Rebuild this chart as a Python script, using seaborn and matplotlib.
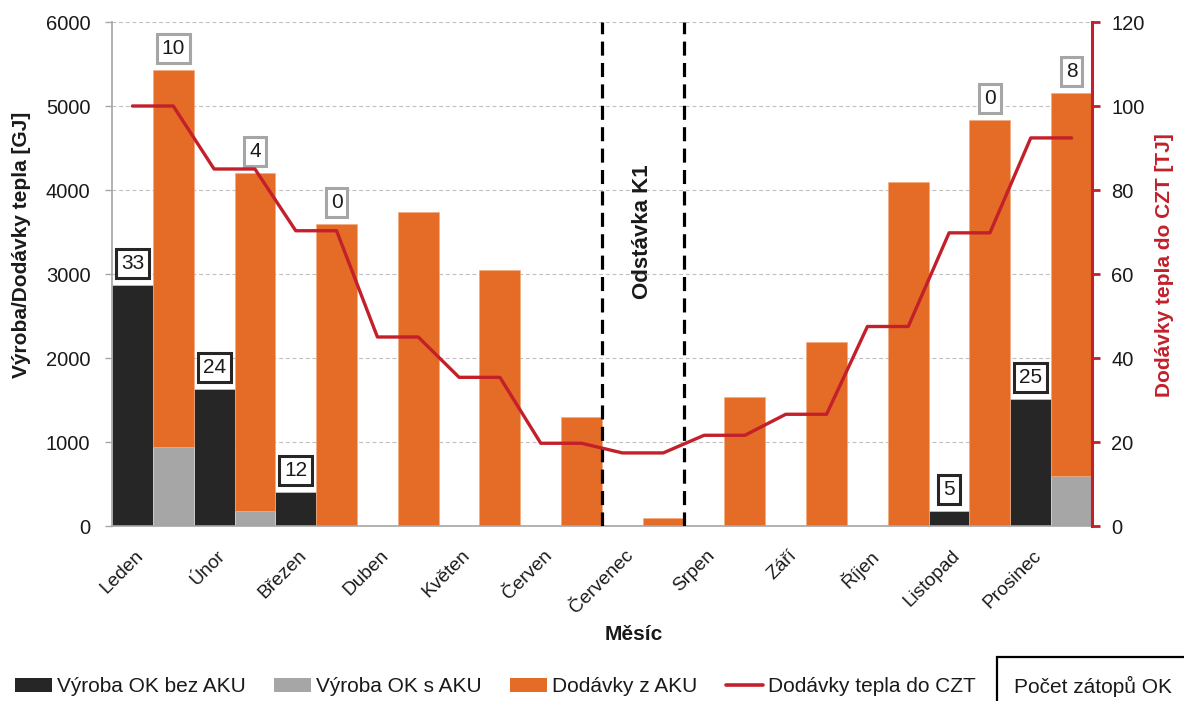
import numpy as np
import pandas as pd
import matplotlib
matplotlib.use("Agg")
import matplotlib.pyplot as plt
import matplotlib.transforms as mtransforms
from matplotlib.patches import Patch, Rectangle
from matplotlib.lines import Line2D
import seaborn as sns

# ---- data ----
months = ["Leden", "Únor", "Březen", "Duben", "Květen", "Červen",
          "Červenec", "Srpen", "Září", "Říjen", "Listopad", "Prosinec"]
vyroba_bez_aku = [2870, 1630, 400, 0, 0, 0, 0, 0, 0, 0, 180, 1510]        # GJ
vyroba_s_aku = [940, 180, 0, 0, 0, 0, 0, 0, 0, 0, 0, 600]                 # GJ
dodavky_z_aku = [4490, 4025, 3600, 3740, 3050, 1300, 100, 1540, 2190,
                 4090, 4830, 4550]                                          # GJ
dodavky_czt = [100, 85, 70.3, 45, 35.4, 19.7, 17.4, 21.6, 26.6, 47.5,
               69.8, 92.4]                                                  # TJ
zatopy_bez_aku = [33, 24, 12, None, None, None, None, None, None, None, 5, 25]
zatopy_s_aku = [10, 4, 0, None, None, None, None, None, None, None, 0, 8]
odstavka_months = ["Červenec"]

# ---- style ----
sns.set_theme(style="white")
plt.rcParams["font.family"] = ["Liberation Sans", "DejaVu Sans"]
FS = 15
FS_TICK = 14.5
FS_MONTH = 13.8
TXT = "#1a1a1a"
C_BLACK = "#262626"
C_GRAY = "#a6a6a6"
C_ORANGE = "#e46c26"
C_RED = "#c3202b"
C_AXIS = "#a6a6a6"

W, H, DPI = 1184, 701, 100
fig = plt.figure(figsize=(W / DPI, H / DPI), dpi=DPI)
ax = fig.add_axes([112 / W, 1 - 526 / H, (1092 - 112) / W, (526 - 22) / H])
ax2 = ax.twinx()

n = len(months)
idx = np.arange(n)
x_left = 2 * idx          # slot of the bar without accumulation
x_right = 2 * idx + 1     # slot of the stacked bar

# bars
ax.bar(x_left, vyroba_bez_aku, width=1, align="edge", color=C_BLACK,
       edgecolor="#d9d9d9", linewidth=0.4, zorder=2)
ax.bar(x_right, vyroba_s_aku, width=1, align="edge", color=C_GRAY,
       edgecolor="#e0e0e0", linewidth=0.4, zorder=2)
ax.bar(x_right, dodavky_z_aku, width=1, align="edge", bottom=vyroba_s_aku,
       color=C_ORANGE, edgecolor="#f2a878", linewidth=0.4, zorder=2)

ax.set_xlim(0, 2 * n)
ax.set_ylim(0, 6000)
ax.set_yticks(np.arange(0, 6001, 1000))
ax.yaxis.grid(True, color="#bfbfbf", linestyle=(0, (3.5, 2.5)), linewidth=0.8)
ax.set_axisbelow(True)

# shutdown period
for m in odstavka_months:
    i = months.index(m)
    for xv in (2 * i, 2 * i + 2):
        ax.axvline(xv, color="black", linewidth=2.3, linestyle=(0, (4.4, 2.3)),
                   zorder=3)
    ax.text(2 * i + 1, 3500, "Odstávka K1", rotation=90, ha="center",
            va="center", fontsize=FS + 1, fontweight="bold", color=TXT, zorder=4)

# number of start-ups (boxes above the bars)
def count_box(x, y, val, edge):
    ax.annotate(str(val), xy=(x, y), xytext=(0, 12), textcoords="offset pixels",
                ha="center", va="bottom", fontsize=FS, color=TXT, zorder=5,
                bbox=dict(boxstyle="square,pad=0.24", fc="white", ec=edge, lw=2.2))

for i in range(n):
    if zatopy_bez_aku[i] is not None:
        count_box(x_left[i] + 0.5, vyroba_bez_aku[i], zatopy_bez_aku[i], C_BLACK)
    if zatopy_s_aku[i] is not None:
        count_box(x_right[i] + 0.5, vyroba_s_aku[i] + dodavky_z_aku[i],
                  zatopy_s_aku[i], C_GRAY)

# heat supply line on the secondary axis
line_df = pd.DataFrame({
    "x": np.column_stack([x_left + 0.5, x_right + 0.5]).ravel(),
    "y": np.repeat(dodavky_czt, 2),
})
sns.lineplot(data=line_df, x="x", y="y", ax=ax2, color=C_RED, linewidth=2.4,
             sort=False, estimator=None, zorder=6)
ax2.set_ylim(0, 120)
ax2.set_yticks(np.arange(0, 121, 20))
ax2.set_xlim(0, 2 * n)
ax2.set_xlabel("")
ax2.set_ylabel("")

# x ticks: month labels
ax.set_xticks(x_right)
ax.set_xticklabels(months, rotation=45, ha="right", rotation_mode="anchor",
                   va="center", fontsize=FS_MONTH, color=TXT)
ax.tick_params(axis="x", length=0, pad=19.5)
shift = mtransforms.ScaledTranslation(-12 / DPI, 0, fig.dpi_scale_trans)
for lab in ax.get_xticklabels():
    lab.set_transform(lab.get_transform() + shift)

# y ticks
ax.tick_params(axis="y", left=True, length=5, width=1, color=C_AXIS, pad=10.5,
               labelsize=FS_TICK, labelcolor=TXT)
ax2.tick_params(axis="y", right=True, length=5.5, width=2, color=C_RED, pad=8.5,
                labelsize=FS_TICK, labelcolor=TXT, direction="out")

for s in ("top", "right"):
    ax.spines[s].set_visible(False)
for s in ("left", "bottom"):
    ax.spines[s].set_color(C_AXIS)
    ax.spines[s].set_linewidth(1.2)
for s in ("top", "left", "bottom"):
    ax2.spines[s].set_visible(False)
ax2.spines["right"].set_color(C_RED)
ax2.spines["right"].set_linewidth(2.2)

# axis titles
fig.text(22 / W, 1 - 245 / H, "Výroba/Dodávky tepla [GJ]", rotation=90,
         ha="center", va="center", fontsize=FS, fontweight="bold", color=TXT)
fig.text(1165 / W, 1 - 265 / H, "Dodávky tepla do CZT [TJ]", rotation=90,
         ha="center", va="center", fontsize=FS, fontweight="bold", color=C_RED)
fig.text(634 / W, 1 - 635 / H, "Měsíc", ha="center", va="center",
         fontsize=FS, fontweight="bold", color=TXT)

# legend
handles = [
    Patch(facecolor=C_BLACK, edgecolor="none"),
    Patch(facecolor=C_GRAY, edgecolor="none"),
    Patch(facecolor=C_ORANGE, edgecolor="none"),
    Line2D([], [], color=C_RED, linewidth=2.6),
]
labels = ["Výroba OK bez AKU", "Výroba OK s AKU", "Dodávky z AKU",
          "Dodávky tepla do CZT"]
fig.legend(handles, labels, ncol=4, frameon=False, fontsize=FS,
           loc="center left", bbox_to_anchor=(15 / W, 1 - 687 / H),
           borderpad=0, borderaxespad=0, handlelength=1.78, handleheight=0.62,
           handletextpad=0.24, columnspacing=1.36, labelcolor=TXT)

# legend box for the start-up counts
fig.patches.append(Rectangle((997 / W, -0.05), 0.2, (1 - 657 / H) + 0.05,
                             transform=fig.transFigure, fill=False,
                             edgecolor="black", linewidth=1.6))
fig.text(1014 / W, 1 - 686 / H, "Počet zátopů OK", ha="left", va="center",
         fontsize=FS, color=TXT)

fig.savefig("out.png", dpi=DPI)
